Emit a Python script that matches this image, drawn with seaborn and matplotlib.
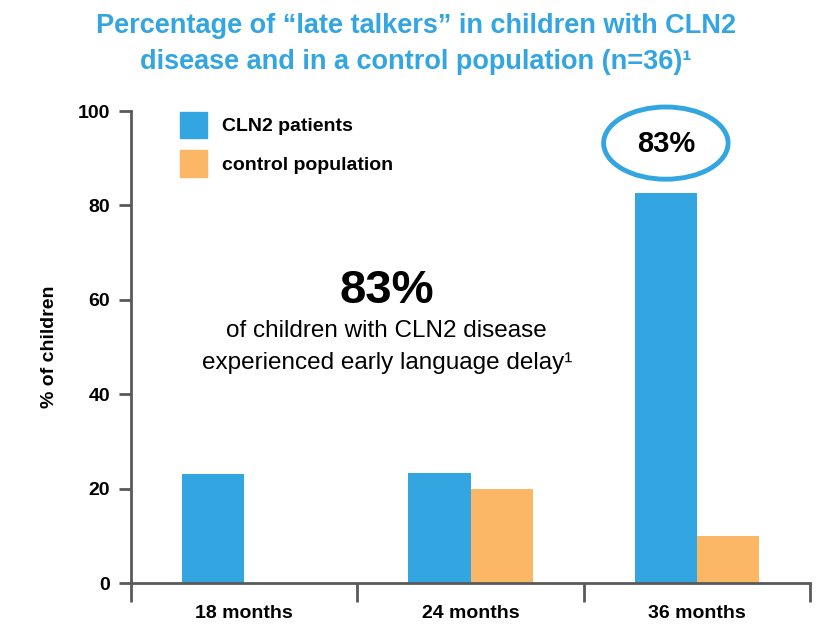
import numpy as np
import pandas as pd
import matplotlib
matplotlib.use("Agg")
import matplotlib.pyplot as plt
import seaborn as sns
from matplotlib.patches import Patch, Ellipse

# data
months = ["18 months", "24 months", "36 months"]
cln2_pct = [23.2, 23.3, 82.6]
control_pct = [np.nan, 20.0, 10.0]
groups = ["CLN2 patients", "control population"]

blue = "#33A5E0"
orange = "#FBB666"
grey = "#595959"

sns.set_style("white")
plt.rcParams["font.family"] = ["Liberation Sans", "DejaVu Sans"]
plt.rcParams["text.color"] = "black"
plt.rcParams["axes.labelcolor"] = "black"
plt.rcParams["xtick.color"] = "black"
plt.rcParams["ytick.color"] = "black"

df = pd.DataFrame({
    "Month": months * 2,
    "Group": [groups[0]] * 3 + [groups[1]] * 3,
    "Pct": cln2_pct + control_pct,
}).dropna()

fig = plt.figure(figsize=(8.32, 6.38), dpi=100)
ax = fig.add_axes([0.1575, 0.0862, 0.8161, 0.7398])

sns.barplot(data=df, x="Month", y="Pct", hue="Group", order=months,
            hue_order=groups, palette=[blue, orange], width=0.55,
            saturation=1, errorbar=None, linewidth=0, ax=ax, legend=False)

ax.set_xlim(-0.5, 2.5)
ax.set_ylim(0, 100)
ax.set_yticks([0, 20, 40, 60, 80, 100])
ax.set_xlabel("")
ax.set_ylabel("% of children", fontsize=14, fontweight="bold", labelpad=14)

for s in ["top", "right"]:
    ax.spines[s].set_visible(False)
for s in ["left", "bottom"]:
    ax.spines[s].set_color(grey)
    ax.spines[s].set_linewidth(2)

ax.tick_params(axis="y", left=True, length=9, width=2, color=grey,
               labelsize=14, pad=6)
ax.tick_params(axis="x", which="major", length=0, labelsize=14, pad=16)
ax.set_xticks([-0.5, 0.5, 1.5, 2.5], minor=True)
ax.tick_params(axis="x", which="minor", bottom=True, length=14, width=2,
               color=grey)
for lbl in ax.get_xticklabels() + ax.get_yticklabels():
    lbl.set_fontweight("bold")

handles = [Patch(color=blue, label=groups[0]), Patch(color=orange, label=groups[1])]
ax.legend(handles=handles, loc="upper left", bbox_to_anchor=(0.072, 0.998),
          frameon=False, prop={"size": 14, "weight": "bold"},
          handlelength=1.4, handleheight=1.7, handletextpad=0.75,
          labelspacing=0.62, borderpad=0, borderaxespad=0)

# highlight for the 36 month bar
ax.add_patch(Ellipse((1.863, 93.2), 0.55, 15.3, fill=False, edgecolor=blue,
                     linewidth=3.5, clip_on=False))
ax.text(1.863, 93.0, "83%", ha="center", va="center", fontsize=21,
        fontweight="bold")

ax.text(0.63, 61.8, "83%", ha="center", va="center", fontsize=34,
        fontweight="bold")
ax.text(0.63, 53.3, "of children with CLN2 disease", ha="center",
        va="center", fontsize=17.5)
ax.text(0.63, 46.6, "experienced early language delay\u00b9", ha="center",
        va="center", fontsize=17.5)

fig.text(0.5, 0.979, "Percentage of \u201clate talkers\u201d in children with CLN2\n"
         "disease and in a control population (n=36)\u00b9",
         ha="center", va="top", fontsize=19.5, fontweight="bold",
         color=blue, linespacing=1.5)

fig.savefig("out.png", dpi=100)
